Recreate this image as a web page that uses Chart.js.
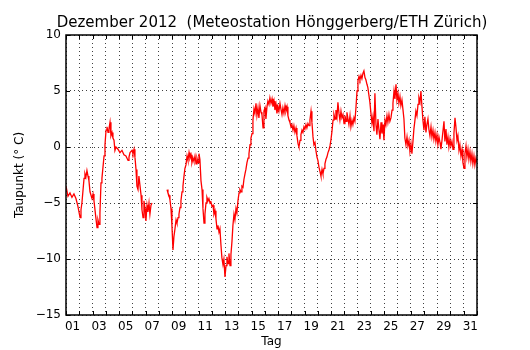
<!DOCTYPE html>
<html>
<head>
<meta charset="utf-8">
<script src="https://cdn.jsdelivr.net/npm/chart.js@4/dist/chart.umd.min.js"></script>
<style>
  body { margin: 0; background: #fff; }
</style>
</head>
<body>
<canvas id="taupunktChart" width="530" height="350"></canvas>
<script>
// Tage seit 1. Dezember 00:00 (x) und Taupunkt in °C (y)
const tage = [
  0.00,0.15,0.30,0.45,0.60,0.75,0.90,1.06,1.13,1.20,
  1.36,1.43,1.50,1.58,1.66,1.73,1.81,1.96,2.04,2.11,
  2.26,2.34,2.41,2.49,2.56,2.64,2.71,2.87,2.94,3.02,
  3.09,3.17,3.24,3.32,3.39,3.47,3.54,3.62,3.69,3.77,
  3.92,4.07,4.22,4.37,4.52,4.68,4.75,4.83,4.98,5.05,
  5.13,5.20,5.28,5.35,5.43,5.50,5.66,5.73,5.81,5.88,
  5.96,6.03,6.11,6.18,6.26,6.33,6.41,6.49,7.00,
  7.62,7.69,7.77,7.84,7.92,7.99,8.07,8.14,8.22,8.30,
  8.37,8.45,8.52,8.60,8.67,8.75,8.82,8.90,8.97,9.05,
  9.13,9.20,9.28,9.35,9.43,9.50,9.58,9.65,9.73,9.81,
  9.88,9.96,10.03,10.10,10.18,10.26,10.33,10.41,10.48,10.56,
  10.63,10.71,10.78,10.86,10.93,11.01,11.09,11.16,11.24,11.31,
  11.39,11.46,11.54,11.61,11.69,11.76,11.84,11.91,11.99,12.07,
  12.14,12.22,12.29,12.37,12.44,12.52,12.59,12.67,12.74,12.82,
  12.89,12.97,13.05,13.12,13.20,13.27,13.35,13.42,13.50,13.57,
  13.65,13.73,13.80,13.88,13.95,14.03,14.10,14.18,14.25,14.33,
  14.40,14.48,14.55,14.63,14.71,14.78,14.86,14.93,15.01,15.08,
  15.16,15.23,15.31,15.38,15.46,15.54,15.61,15.69,15.76,15.84,
  15.91,15.99,16.06,16.14,16.21,16.29,16.36,16.44,16.52,16.59,
  16.67,16.74,16.82,16.89,16.97,17.04,17.12,17.19,17.27,17.35,
  17.42,17.50,17.57,17.65,17.72,17.80,17.87,17.95,18.02,18.10,
  18.17,18.25,18.33,18.40,18.48,18.55,18.63,18.70,18.78,18.85,
  18.93,19.00,19.08,19.16,19.23,19.31,19.38,19.46,19.53,19.61,
  19.68,19.76,19.83,19.91,19.98,20.06,20.14,20.21,20.29,20.36,
  20.44,20.51,20.59,20.66,20.74,20.81,20.89,20.97,21.04,21.12,
  21.19,21.27,21.34,21.42,21.49,21.57,21.64,21.72,21.79,21.87,
  21.95,22.02,22.10,22.17,22.25,22.32,22.40,22.47,22.55,22.62,
  22.70,22.77,22.85,22.92,23.00,23.08,23.15,23.23,23.30,23.38,
  23.45,23.53,23.60,23.68,23.76,23.83,23.91,23.98,24.06,24.13,
  24.21,24.28,24.36,24.43,24.51,24.59,24.66,24.74,24.81,24.89,
  24.96,25.04,25.11,25.19,25.26,25.34,25.41,25.49,25.56,25.64,
  25.72,25.79,25.87,25.94,26.02,26.09,26.17,26.24,26.32,26.39,
  26.47,26.55,26.62,26.70,26.77,26.85,26.92,27.00,27.07,27.15,
  27.22,27.30,27.37,27.45,27.53,27.60,27.68,27.75,27.83,27.90,
  27.98,28.05,28.13,28.21,28.28,28.36,28.43,28.51,28.58,28.66,
  28.73,28.81,28.88,28.96,29.03,29.11,29.19,29.26,29.34,29.41,
  29.49,29.56,29.64,29.71,29.79,29.87,29.94,30.02,30.09,30.17,
  30.24,30.32,30.39,30.47,30.54,30.62,30.69,30.77,30.84,30.92,31.00
];

const taupunkt = [
  -3.5,-4.4,-4.1,-4.5,-4.2,-4.6,-5.3,-6.3,-5.6,-5.0,
  -2.8,-2.4,-2.7,-2.1,-2.6,-3.0,-4.0,-4.6,-4.2,-4.8,
  -6.4,-7.2,-6.5,-6.9,-5.9,-3.2,-2.8,-0.8,0.2,1.5,
  1.8,1.3,1.6,2.2,1.0,1.3,0.8,0.6,-0.3,0.0,
  -0.2,-0.5,-0.3,-0.7,-0.8,-1.2,-0.9,-0.5,-0.3,-0.6,
  -0.2,-0.9,-2.0,-3.5,-3.8,-2.6,-4.3,-5.6,-6.3,-4.8,
  -5.5,-6.6,-5.2,-5.8,-5.0,-6.0,-5.2,-5.0,null,
  -3.8,-4.1,-4.3,-4.7,-5.5,-7.0,-9.2,-8.0,-7.3,-6.5,
  -6.8,-6.3,-6.0,-5.4,-4.8,-4.0,-3.5,-2.6,-1.9,-1.6,
  -0.8,-1.2,-0.5,-1.0,-0.7,-1.4,-1.0,-1.3,-0.8,-1.5,
  -1.0,-1.4,-0.6,-1.1,-3.0,-3.8,-5.5,-6.8,-6.0,-5.0,
  -4.5,-4.8,-4.6,-5.0,-4.9,-5.3,-5.2,-6.0,-5.7,-6.4,
  -7.3,-7.0,-7.6,-7.3,-8.8,-9.9,-10.5,-10.0,-11.6,-10.6,
  -9.8,-10.4,-9.5,-10.6,-9.6,-8.4,-7.0,-6.0,-6.5,-5.5,
  -5.9,-4.8,-4.1,-3.8,-4.0,-3.5,-3.6,-2.9,-2.4,-2.0,
  -1.4,-1.0,-0.6,0.2,0.8,1.2,2.4,3.4,3.0,3.9,
  2.8,3.5,2.6,3.7,3.1,2.9,1.7,3.2,3.5,2.5,
  3.6,4.1,3.8,4.4,3.9,4.3,3.6,4.1,3.3,3.8,
  3.0,3.6,3.2,3.9,3.4,2.9,3.5,3.0,3.7,3.2,
  3.6,2.8,2.4,2.2,1.8,2.0,1.5,1.9,1.3,1.7,
  1.0,0.3,0.0,0.6,1.1,1.5,1.3,1.8,1.6,2.0,
  1.7,2.1,1.9,2.4,3.2,2.2,0.9,0.2,0.4,-0.3,
  -0.9,-1.2,-1.8,-2.2,-2.6,-2.0,-2.4,-1.9,-1.5,-1.1,
  -0.9,-0.5,-0.3,0.1,0.6,1.4,2.4,2.9,2.5,3.3,
  2.7,4.0,3.0,2.4,3.2,2.6,2.9,2.1,2.8,2.3,
  3.1,2.5,2.0,2.8,1.8,2.4,2.0,2.6,2.3,3.5,
  5.0,5.9,6.3,6.0,6.4,6.1,6.6,6.8,6.2,6.0,
  5.6,5.3,4.6,4.0,3.0,2.1,2.7,1.4,4.8,2.0,
  1.1,2.5,1.6,0.7,2.2,1.2,2.0,0.6,2.4,2.0,
  2.8,2.2,2.9,2.3,2.6,3.3,3.9,5.0,4.3,5.6,
  4.2,4.8,3.9,4.5,3.7,4.2,3.4,2.5,0.8,0.2,
  0.9,0.1,0.6,-0.4,0.3,-0.6,0.5,1.6,2.4,3.2,
  2.8,3.8,4.4,4.0,5.0,3.6,2.4,1.5,2.7,1.3,
  2.0,2.5,1.6,1.0,1.8,0.9,1.5,0.7,1.3,0.5,
  1.1,0.2,0.9,0.4,-0.2,0.6,1.4,2.3,0.5,1.6,
  0.2,0.9,0.0,0.7,0.1,0.5,-0.2,1.2,2.6,1.8,
  0.6,1.0,-0.3,0.2,-0.8,-0.2,-1.4,-1.9,-0.6,0.1,
  -0.9,-0.2,-1.1,-0.4,-1.3,-0.6,-1.5,-0.8,-1.6,-1.0,-1.4
];

// Achsen
const tagGrenzen = [0,1,2,3,4,5,6,7,8,9,10,11,12,13,14,15,16,17,18,19,20,21,22,23,24,25,26,27,28,29,30,31];
const tagLabels = ["01","03","05","07","09","11","13","15","17","19","21","23","25","27","29","31"];
const taupunktTicks = [-15, -10, -5, 0, 5, 10];

const titel = "Dezember 2012  (Meteostation Hönggerberg/ETH Zürich)";
const schrift = "'DejaVu Sans', sans-serif";
Chart.defaults.font.family = schrift;
Chart.defaults.color = "#000";

// Rahmen und Innen-Ticks wie bei matplotlib
const rahmen = {
  id: "rahmen",
  afterDraw(chart) {
    const { ctx, chartArea: a, scales: { x, y } } = chart;
    ctx.save();
    ctx.strokeStyle = "#000";
    ctx.lineWidth = 1;
    ctx.beginPath();
    x.ticks.forEach(t => {
      const px = Math.round(x.getPixelForValue(t.value)) + 0.5;
      ctx.moveTo(px, a.bottom); ctx.lineTo(px, a.bottom - 4);
      ctx.moveTo(px, a.top); ctx.lineTo(px, a.top + 4);
    });
    y.ticks.forEach(t => {
      const py = Math.round(y.getPixelForValue(t.value)) + 0.5;
      ctx.moveTo(a.left, py); ctx.lineTo(a.left + 4, py);
      ctx.moveTo(a.right, py); ctx.lineTo(a.right - 4, py);
    });
    ctx.stroke();
    ctx.lineWidth = 1.5;
    ctx.strokeRect(a.left, a.top, a.right - a.left, a.bottom - a.top);
    ctx.restore();
  }
};

const ctx = document.getElementById("taupunktChart").getContext("2d");

new Chart(ctx, {
  type: "line",
  data: {
    datasets: [{
      data: tage.map((t, i) => ({ x: t, y: taupunkt[i] })),
      borderColor: "#ff0000",
      borderWidth: 1.3,
      pointRadius: 0,
      tension: 0,
      spanGaps: false
    }]
  },
  options: {
    responsive: false,
    animation: false,
    layout: { padding: { left: 14 } },
    plugins: {
      legend: { display: false },
      tooltip: { enabled: false },
      title: {
        display: true,
        text: titel,
        color: "#000",
        font: { size: 15, weight: "normal" },
        padding: { top: 14, bottom: 3 }
      }
    },
    scales: {
      x: {
        type: "linear",
        min: 0,
        max: 31,
        afterFit: s => { s.height = 35; },
        afterBuildTicks: s => { s.ticks = tagGrenzen.map(v => ({ value: v })); },
        grid: { color: "rgba(0,0,0,0.75)", lineWidth: 1, drawTicks: false },
        border: { display: false, dash: [1, 3] },
        ticks: {
          autoSkip: false,
          maxRotation: 0,
          padding: 5,
          labelOffset: 6.6,
          font: { size: 12 },
          callback: v => (v % 2 === 0 && v < 31) ? tagLabels[v / 2] : ""
        },
        title: {
          display: true,
          text: "Tag",
          font: { size: 12 },
          padding: { top: 0, bottom: 1 }
        }
      },
      y: {
        min: -15,
        max: 10,
        afterFit: s => { s.width = 52; },
        afterBuildTicks: s => { s.ticks = taupunktTicks.map(v => ({ value: v })); },
        grid: { color: "rgba(0,0,0,0.75)", lineWidth: 1, drawTicks: false },
        border: { display: false, dash: [1, 3] },
        ticks: {
          padding: 5,
          font: { size: 12 },
          callback: v => String(v).replace("-", "\u2212")
        },
        title: {
          display: true,
          text: "Taupunkt (° C)",
          font: { size: 12 },
          padding: { top: -1, bottom: 0 }
        }
      },
      rechts: {
        position: "right",
        min: -15,
        max: 10,
        afterFit: s => { s.width = 53; },
        grid: { display: false, drawTicks: false },
        border: { display: false },
        ticks: { display: false }
      }
    }
  },
  plugins: [rahmen]
});
</script>
</body>
</html>
